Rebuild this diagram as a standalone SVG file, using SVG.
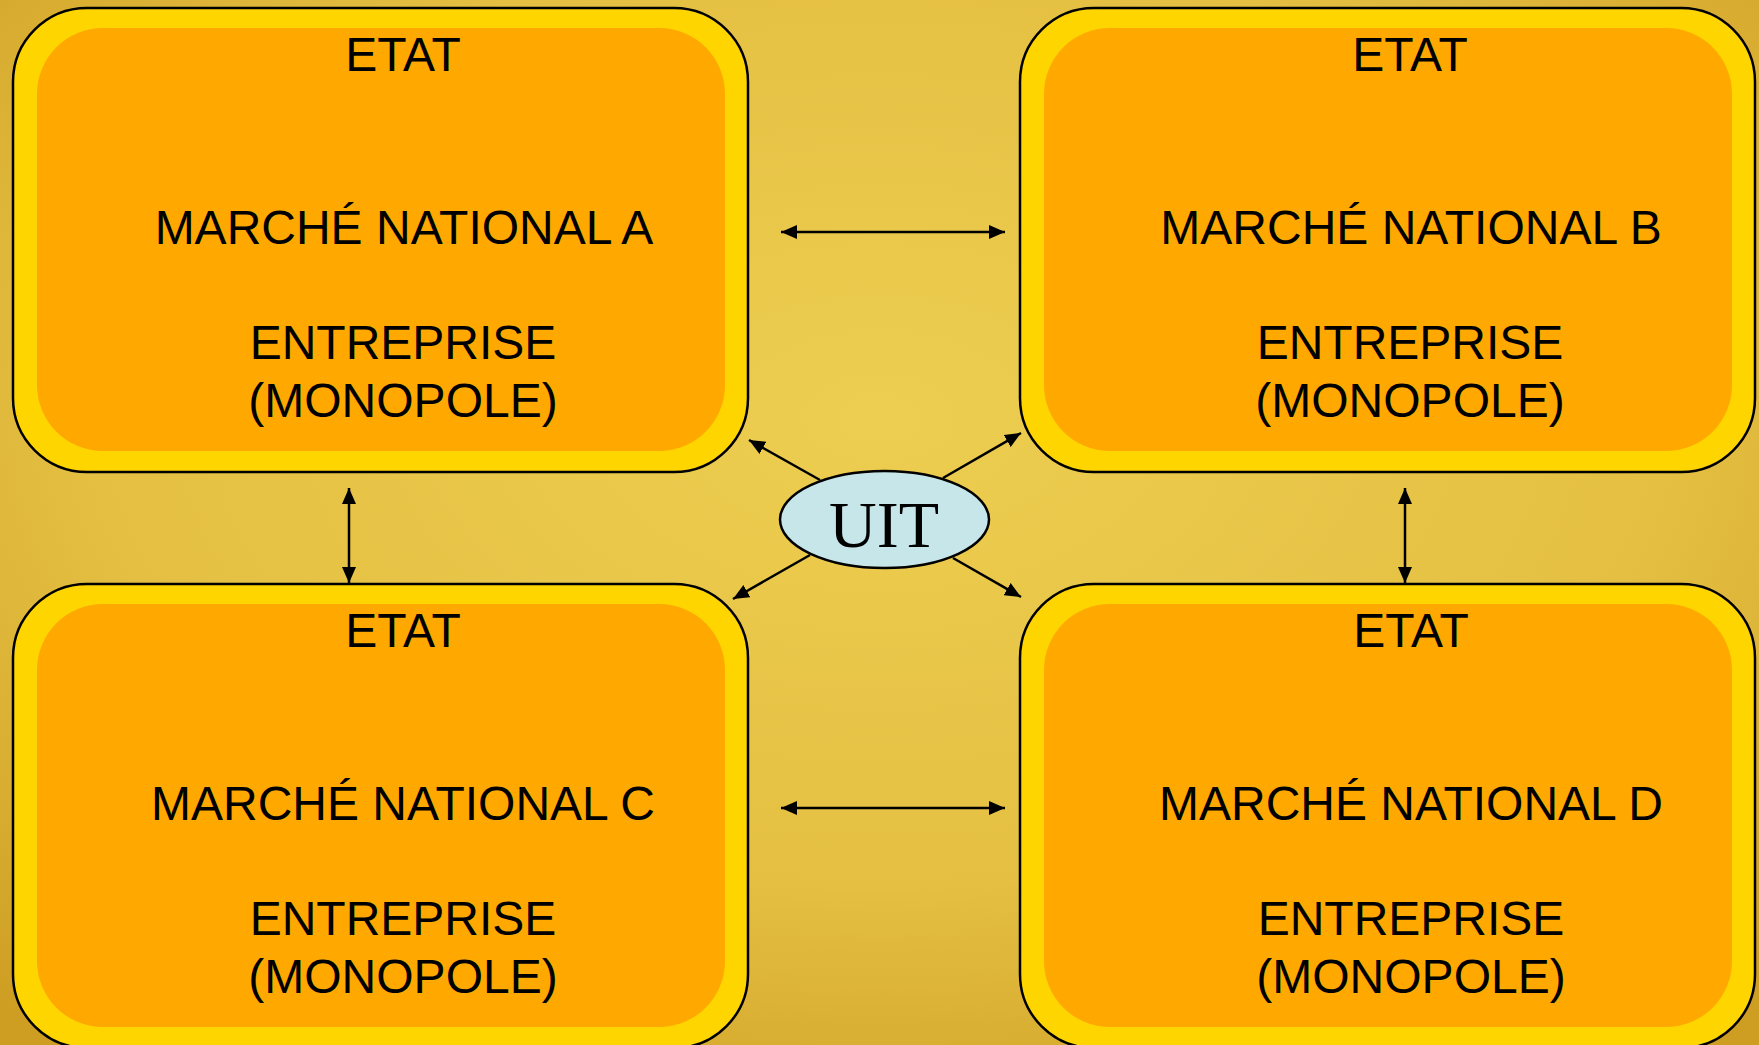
<svg xmlns="http://www.w3.org/2000/svg" width="1759" height="1045" viewBox="0 0 1759 1045">
  <defs>
    <radialGradient id="bg" cx="0.5" cy="0.4" r="0.75">
      <stop offset="0" stop-color="#EDCE50"/>
      <stop offset="0.6" stop-color="#E4BF42"/>
      <stop offset="1" stop-color="#CE9E22"/>
    </radialGradient>
    <marker id="ah" viewBox="0 0 16 14" refX="16" refY="7" markerWidth="16" markerHeight="14" markerUnits="userSpaceOnUse" orient="auto-start-reverse">
      <path d="M0,0 L16,7 L0,14 Z" fill="#000"/>
    </marker>
    <style>
      .outer { fill: #FFD500; stroke: #000; stroke-width: 2.5; }
      .inner { fill: #FFA800; }
      .lbl { font-family: "Liberation Sans", Arial, sans-serif; font-size: 48px; fill: #000; text-anchor: middle; }
      .conn { stroke: #000; stroke-width: 2.5; fill: none; marker-end: url(#ah); }
      .both { marker-start: url(#ah); }
    </style>
  </defs>
  <rect x="0" y="0" width="1759" height="1045" fill="url(#bg)"/>

  <g id="node-a">
    <rect class="outer" x="13" y="8" width="735" height="464" rx="74" ry="74"/>
    <rect class="inner" x="37" y="28" width="688" height="423" rx="66" ry="66"/>
    <text class="lbl" x="403" y="71">ETAT</text>
    <text class="lbl" x="404" y="244">MARCHÉ NATIONAL A</text>
    <text class="lbl" x="403" y="359">ENTREPRISE</text>
    <text class="lbl" x="403" y="417">(MONOPOLE)</text>
  </g>

  <g id="node-b">
    <rect class="outer" x="1020" y="8" width="735" height="464" rx="74" ry="74"/>
    <rect class="inner" x="1044" y="28" width="688" height="423" rx="66" ry="66"/>
    <text class="lbl" x="1410" y="71">ETAT</text>
    <text class="lbl" x="1411" y="244">MARCHÉ NATIONAL B</text>
    <text class="lbl" x="1410" y="359">ENTREPRISE</text>
    <text class="lbl" x="1410" y="417">(MONOPOLE)</text>
  </g>

  <g id="node-c">
    <rect class="outer" x="13" y="584" width="735" height="464" rx="74" ry="74"/>
    <rect class="inner" x="37" y="604" width="688" height="423" rx="66" ry="66"/>
    <text class="lbl" x="403" y="647">ETAT</text>
    <text class="lbl" x="403" y="820">MARCHÉ NATIONAL C</text>
    <text class="lbl" x="403" y="935">ENTREPRISE</text>
    <text class="lbl" x="403" y="993">(MONOPOLE)</text>
  </g>

  <g id="node-d">
    <rect class="outer" x="1020" y="584" width="735" height="464" rx="74" ry="74"/>
    <rect class="inner" x="1044" y="604" width="688" height="423" rx="66" ry="66"/>
    <text class="lbl" x="1411" y="647">ETAT</text>
    <text class="lbl" x="1411" y="820">MARCHÉ NATIONAL D</text>
    <text class="lbl" x="1411" y="935">ENTREPRISE</text>
    <text class="lbl" x="1411" y="993">(MONOPOLE)</text>
  </g>

  <g id="connectors">
    <line class="conn both" x1="781" y1="232" x2="1005" y2="232"/>
    <line class="conn both" x1="781" y1="808" x2="1005" y2="808"/>
    <line class="conn both" x1="349" y1="488" x2="349" y2="583"/>
    <line class="conn both" x1="1405" y1="488" x2="1405" y2="583"/>
    <line class="conn" x1="820" y1="480" x2="749" y2="440"/>
    <line class="conn" x1="943" y1="478" x2="1021" y2="433"/>
    <line class="conn" x1="810" y1="555" x2="733" y2="599"/>
    <line class="conn" x1="953" y1="558" x2="1021" y2="597"/>
  </g>

  <g id="node-uit">
    <ellipse cx="884.5" cy="519.5" rx="104.5" ry="48.5" fill="#C6E6EA" stroke="#000" stroke-width="2.5"/>
    <text x="884" y="547" font-family="Liberation Serif, 'Times New Roman', serif" font-size="66" text-anchor="middle" fill="#000">UIT</text>
  </g>
</svg>
